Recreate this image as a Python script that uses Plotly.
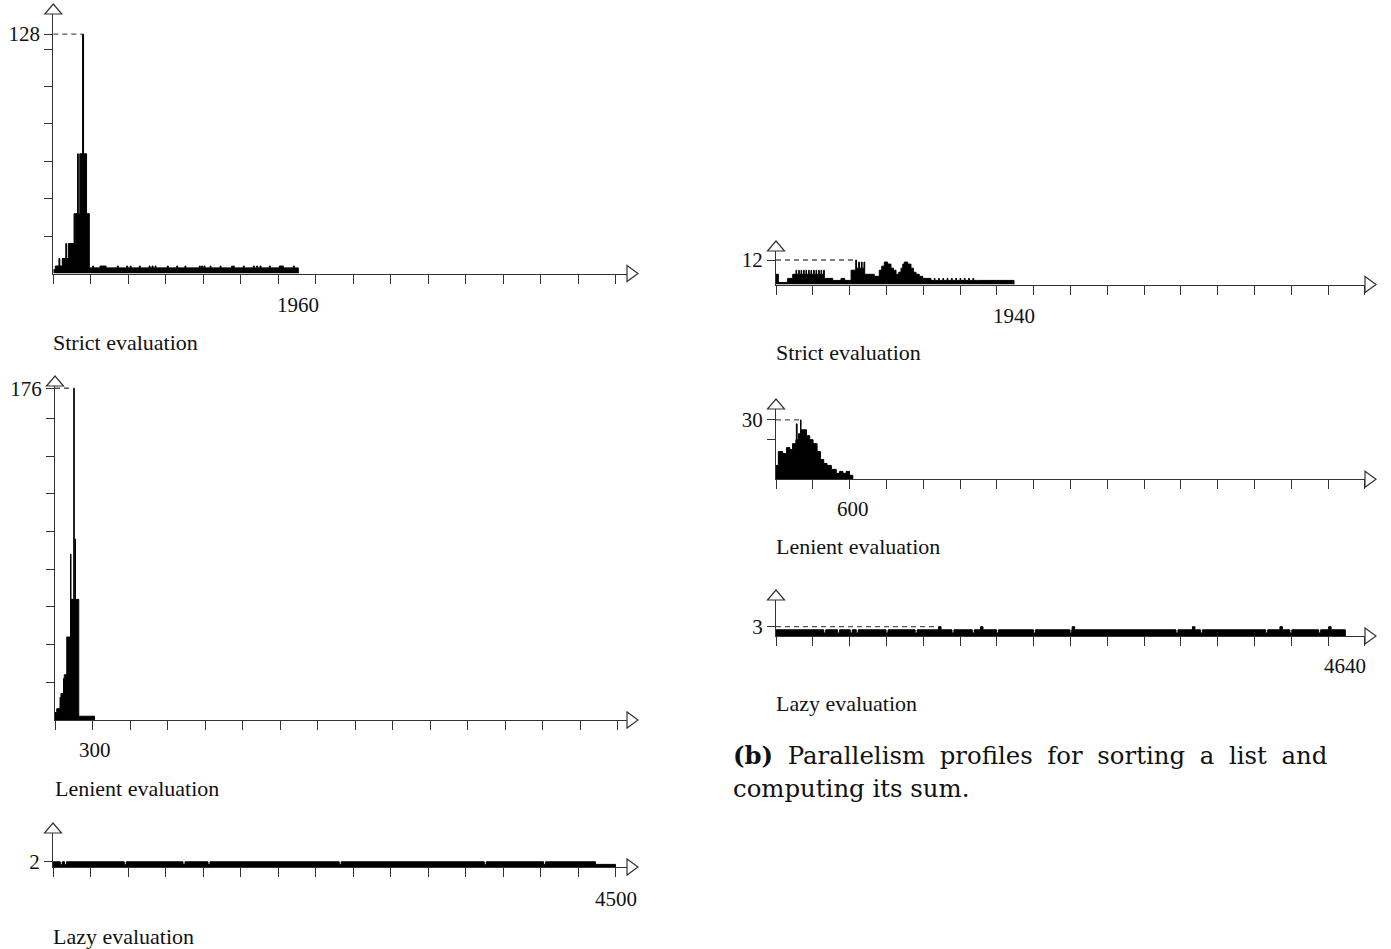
import plotly.graph_objects as go

W, H = 1391, 949

# ---------------- data (time, parallelism) step profiles ----------------
STRICT_A_T = [0, 16, 45, 52, 72, 100, 106, 120, 166, 172, 176, 194, 200, 212, 234, 242, 266, 288,
              315, 323, 374, 422, 512, 520, 587, 595, 615, 623, 688, 696, 766, 774, 790, 798,
              814, 822, 912, 920, 987, 995, 1053, 1061, 1168, 1176, 1187, 1195, 1206, 1214,
              1254, 1262, 1334, 1342, 1427, 1435, 1440, 1448, 1520, 1528, 1600, 1608, 1627, 1635,
              1654, 1662, 1728, 1736, 1808, 1840, 1920, 1928, 1960]
STRICT_A_V = [2, 4, 8, 4, 8, 16, 8, 16, 32, 16, 32, 64, 32, 64, 128, 64, 32, 3,
              4, 3, 4, 3, 4, 3, 4, 3, 4, 3, 4, 3, 4, 3, 4, 3,
              4, 3, 4, 3, 4, 3, 4, 3, 4, 3, 4, 3, 4, 3,
              4, 3, 4, 3, 4, 3, 4, 3, 4, 3, 4, 3, 4, 3,
              4, 3, 4, 3, 4, 3, 4, 3, 0]

LENIENT_A_T = [0, 14, 40, 48, 68, 74, 94, 124, 128, 150, 154, 160, 164, 190, 316]
LENIENT_A_V = [4, 6, 12, 14, 22, 24, 44, 88, 64, 176, 64, 96, 64, 2, 0]

LAZY_A_T = [0, 58, 74, 92, 108, 570, 586, 1040, 1056, 1240, 1256, 2290, 2306, 3450, 3466,
            3925, 3941, 4340, 4500]
LAZY_A_V = [2, 1, 2, 1, 2, 1, 2, 1, 2, 1, 2, 1, 2, 1, 2, 1, 2, 1, 0]

STRICT_B_T = [0, 19, 95, 136,
              163, 168, 185, 190, 204, 209, 225, 230, 244, 249, 266, 271, 285, 290, 307, 312,
              326, 331, 348, 353, 367, 372, 388, 394,
              462, 530, 560, 612, 650, 656, 674, 680, 696, 702, 717, 723, 801, 842, 862, 883,
              910, 937, 957, 978, 1000, 1019, 1033, 1046, 1073, 1100, 1120, 1141, 1168, 1195,
              1263, 1290, 1296, 1325, 1331, 1360, 1366, 1395, 1401, 1430, 1436, 1465, 1471,
              1500, 1506, 1535, 1541, 1570, 1576, 1605, 1611, 1643, 1940]
STRICT_B_V = [5, 1, 3, 5,
              7, 5, 7, 5, 7, 5, 7, 5, 7, 5, 7, 5, 7, 5, 7, 5,
              7, 5, 7, 5, 7, 5, 7, 3,
              2, 3, 2, 7, 12, 8, 11, 8, 11, 8, 11, 5, 4, 7, 9, 11,
              10, 8, 7, 5, 6, 8, 10, 11, 10, 8, 6, 5, 4, 3,
              2, 3, 2, 3, 2, 3, 2, 3, 2, 3, 2, 3, 2,
              3, 2, 3, 2, 3, 2, 3, 2, 2, 0]

LENIENT_B_T = [0, 19, 54, 86, 113, 135, 162, 166, 172, 184, 200, 204, 248, 275, 302, 335,
               362, 389, 416, 451, 491, 518, 545, 572, 599, 626]
LENIENT_B_V = [7, 14, 13, 16, 15, 18, 20, 28, 20, 23, 30, 25, 22, 20, 18, 14,
               10, 8, 7, 5, 3, 4, 3, 4, 2, 0]

LAZY_B_T = [0, 389, 405, 502, 518, 605, 621, 654, 670, 897, 913, 1134, 1150, 1325, 1345,
            1434, 1450, 1600, 1616, 1667, 1687, 1798, 1814, 2098, 2114, 2396, 2410, 2414,
            2434, 3260, 3276, 3394, 3414, 3459, 3475, 3991, 4007, 4107, 4127, 4188, 4204,
            4423, 4439, 4504, 4524, 4640]
LAZY_B_V = [2, 1, 2, 1, 2, 1, 2, 1, 2, 1, 2, 1, 2, 3, 2,
            1, 2, 1, 2, 3, 2, 1, 2, 1, 2, 1, 2, 3,
            2, 1, 2, 3, 2, 1, 2, 1, 2, 3, 2, 1, 2,
            1, 2, 3, 2, 0]

TITLES = ["Strict evaluation", "Lenient evaluation", "Lazy evaluation",
          "Strict evaluation", "Lenient evaluation", "Lazy evaluation"]
END_LABELS = ["1960", "300", "4500", "1940", "600", "4640"]
Y_TICKS = [[20, 40, 60, 80, 100, 120], [20, 40, 60, 80, 100, 120, 140, 160], [],
           [], [20], []]
SERIES = [(STRICT_A_T, STRICT_A_V), (LENIENT_A_T, LENIENT_A_V), (LAZY_A_T, LAZY_A_V),
          (STRICT_B_T, STRICT_B_V), (LENIENT_B_T, LENIENT_B_V), (LAZY_B_T, LAZY_B_V)]
GAP = "\u2002\u200a"
CAPTION_1 = GAP.join(["<b>(b)</b>", "Parallelism", "profiles", "for", "sorting", "a", "list", "and"])
CAPTION_2 = "computing its sum."

# ---------------- layout geometry (pixels) ----------------
GEOM = [
    dict(x0=53.3, xtip=638, base=273.5, ytip=4, ux=8.0, uy=1.87, lab_dy=32, title_y=342),
    dict(x0=55, xtip=638, base=720, ytip=376, ux=8.0, uy=1.885, lab_dy=30, title_y=788),
    dict(x0=53, xtip=638, base=867, ytip=823, ux=8.0, uy=2.6, lab_dy=32, title_y=936),
    dict(x0=776, xtip=1376, base=284.5, ytip=241, ux=8.15, uy=2.04, lab_dy=31.5, title_y=352),
    dict(x0=776, xtip=1376, base=479.3, ytip=399, ux=8.15, uy=1.98, lab_dy=30, title_y=546),
    dict(x0=776, xtip=1376, base=636, ytip=590, ux=8.15, uy=3.1, lab_dy=30, title_y=703),
]
YA_H, YA_HW = 10, 8.5     # y-axis arrow height / half-width
XA_L, XA_HH = 11, 8       # x-axis arrow length / half-height
AX_COLOR = "#333333"
SERIF = "Liberation Serif"


def px(x):
    return x / W


def py(y):
    return 1 - y / H


fig = go.Figure()
layout = dict(template="none", width=W, height=H,
              margin=dict(l=0, r=0, t=0, b=0, pad=0, autoexpand=False), autosize=False,
              paper_bgcolor="white", plot_bgcolor="white", showlegend=False)
shapes, annotations = [], []

for i, ((t, v), g) in enumerate(zip(SERIES, GEOM), start=1):
    xs = "x" if i == 1 else f"x{i}"
    ys = "y" if i == 1 else f"y{i}"
    xk = "xaxis" if i == 1 else f"xaxis{i}"
    yk = "yaxis" if i == 1 else f"yaxis{i}"

    x_end_px = g["xtip"] - XA_L
    y_top_px = g["ytip"] + YA_H
    vmax = max(v)
    imax = v.index(vmax)

    layout[xk] = dict(domain=[px(g["x0"]), px(x_end_px)],
                      range=[0, (x_end_px - g["x0"]) * g["ux"]],
                      anchor=ys, showline=True, linecolor=AX_COLOR, linewidth=1.2,
                      ticks="outside", ticklen=9, tickwidth=1.2, tickcolor=AX_COLOR,
                      tickmode="linear", tick0=0, dtick=300, showticklabels=False,
                      showgrid=False, zeroline=False, fixedrange=True, automargin=False)
    tv = Y_TICKS[i - 1] + [vmax]
    tt = [""] * len(Y_TICKS[i - 1]) + [str(vmax)]
    layout[yk] = dict(domain=[py(g["base"]), py(y_top_px)],
                      range=[0, (g["base"] - y_top_px) / g["uy"]],
                      anchor=xs, showline=True, linecolor=AX_COLOR, linewidth=1.2,
                      ticks="outside", ticklen=8, tickwidth=1.2, tickcolor=AX_COLOR,
                      tickmode="array", tickvals=tv, ticktext=tt,
                      tickfont=dict(family=SERIF, size=21, color="#111111"),
                      showgrid=False, zeroline=False, fixedrange=True, automargin=False)

    fig.add_trace(go.Scatter(x=t, y=v, mode="lines", xaxis=xs, yaxis=ys,
                             line=dict(shape="hv", color="black", width=1),
                             fill="tozeroy", fillcolor="black", hoverinfo="skip"))
    fig.add_trace(go.Scatter(x=[0, t[imax]], y=[vmax, vmax], mode="lines",
                             xaxis=xs, yaxis=ys,
                             line=dict(color="#555555", width=1.3, dash="5px,4px"),
                             hoverinfo="skip"))

    # arrow heads
    x0, b = g["x0"], g["base"]
    shapes.append(dict(type="path", xref="paper", yref="paper",
                       path=(f"M {px(x0 - YA_HW)},{py(y_top_px)} L {px(x0 + YA_HW)},{py(y_top_px)} "
                             f"L {px(x0)},{py(g['ytip'])} Z"),
                       fillcolor="white", line=dict(color=AX_COLOR, width=1.2)))
    shapes.append(dict(type="path", xref="paper", yref="paper",
                       path=(f"M {px(x_end_px)},{py(b - XA_HH)} L {px(x_end_px)},{py(b + XA_HH)} "
                             f"L {px(g['xtip'])},{py(b)} Z"),
                       fillcolor="white", line=dict(color=AX_COLOR, width=1.2)))

    annotations.append(dict(xref=xs, yref="paper", x=t[-1], y=py(b + g["lab_dy"]),
                            text=END_LABELS[i - 1], showarrow=False, xanchor="center",
                            yanchor="middle",
                            font=dict(family=SERIF, size=21, color="#111111")))
    annotations.append(dict(xref="paper", yref="paper", x=px(x0 - 2), y=py(g["title_y"]),
                            text=TITLES[i - 1], showarrow=False, xanchor="left",
                            yanchor="middle",
                            font=dict(family=SERIF, size=22, color="#111111")))

annotations.append(dict(xref="paper", yref="paper", x=px(731), y=py(755), text=CAPTION_1,
                        showarrow=False, xanchor="left", yanchor="middle",
                        font=dict(family="DejaVu Serif", size=24.4, color="#111111")))
annotations.append(dict(xref="paper", yref="paper", x=px(731), y=py(788), text=CAPTION_2,
                        showarrow=False, xanchor="left", yanchor="middle",
                        font=dict(family="DejaVu Serif", size=24.4, color="#111111")))

layout["shapes"] = shapes
layout["annotations"] = annotations
fig.update_layout(**layout)
fig.write_html("out.html",
               post_script="document.body.style.margin='0';"
                           "document.body.style.padding='0';"
                           "document.body.style.overflow='hidden';")
